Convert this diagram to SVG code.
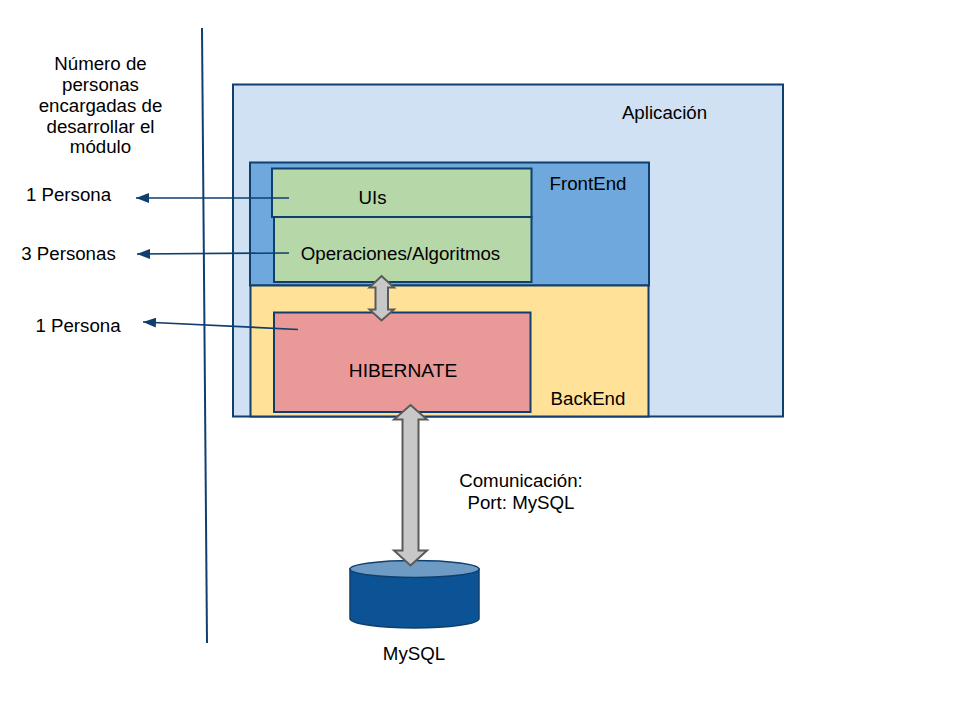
<svg xmlns="http://www.w3.org/2000/svg" width="960" height="720" viewBox="0 0 960 720">
<style>
text{font-family:"Liberation Sans",Arial,sans-serif;font-size:18.700px;fill:#000;text-anchor:middle}
.b{stroke:#0f3f6e;stroke-width:2}
.c{stroke:#0f3f6e;stroke-width:1.700;fill:none;marker-end:url(#a)}
.d{fill:#c8c8c8;stroke:#5a5a5a;stroke-width:2;stroke-linejoin:miter}
</style>
<defs><marker id="a" markerUnits="userSpaceOnUse" markerWidth="14" markerHeight="10" refX="13" refY="5" orient="auto"><path d="M13 5L0 0V10Z" fill="#0f3f6e"/></marker></defs>
<rect width="960" height="720" fill="#fff"/>
<g id="app"><rect class="b" x="233" y="84.500" width="550" height="332" fill="#cfe1f3"/><text x="664.500" y="118.500">Aplicación</text></g>
<g id="frontend"><rect class="b" x="250" y="162.500" width="399" height="123" fill="#6fa8dc"/><text x="588" y="189.500">FrontEnd</text></g>
<g id="backend"><rect class="b" x="250.500" y="285.500" width="398" height="131" fill="#ffe298"/><text x="588" y="404.500">BackEnd</text></g>
<g id="algoritmos"><rect class="b" x="274" y="217" width="257.500" height="65" fill="#b6d7a8"/><text x="400.500" y="259.500">Operaciones/Algoritmos</text></g>
<g id="uis"><rect class="b" x="272" y="168.500" width="259.500" height="48.500" fill="#b6d7a8"/><text x="372.500" y="203.500">UIs</text></g>
<g id="hibernate"><rect class="b" x="274" y="312.500" width="256.500" height="99.500" fill="#ea9999"/><text x="403" y="376.500" style="font-size:19.200px">HIBERNATE</text></g>
<g id="mysql"><path d="M350 569V618.500C350 624 380 628 414.500 628S479 624 479 618.500V569Z" fill="#0b5394" stroke="#0f3f6e" stroke-width="1.500"/><ellipse cx="414.500" cy="569" rx="64.500" ry="8.500" fill="#6d9bc3" stroke="#0f3f6e" stroke-width="1.500"/><text x="414" y="659.500">MySQL</text></g>
<g id="connectors">
<path d="M202 28L207 643" stroke="#0f3f6e" stroke-width="2" fill="none"/>
<path class="c" d="M289 198H136"/>
<path class="c" d="M289 253L137 254"/>
<path class="c" d="M298 329.500L143 322"/>
<path class="d" d="M381.500 276L394 287.500H388V309.500H394L381.500 320.500L369.500 309.500H375.500V287.500H369.500Z"/>
<path class="d" d="M410.500 405L427 419.500H418.500V550.500H427L410.500 565.500L394 550.500H402.500V419.500H394Z"/>
</g>
<g id="labels">
<text x="100.500" y="69.500">Número de</text><text x="100.500" y="90.500">personas</text><text x="100.500" y="111.500">encargadas de</text><text x="100.500" y="132.500">desarrollar el</text><text x="100.500" y="152.500">módulo</text>
<text x="68.500" y="200.500">1 Persona</text><text x="68.500" y="259.500">3 Personas</text><text x="78" y="331.500">1 Persona</text>
<text x="521" y="486.500">Comunicación:</text><text x="521" y="508.500">Port: MySQL</text>
</g>
</svg>
